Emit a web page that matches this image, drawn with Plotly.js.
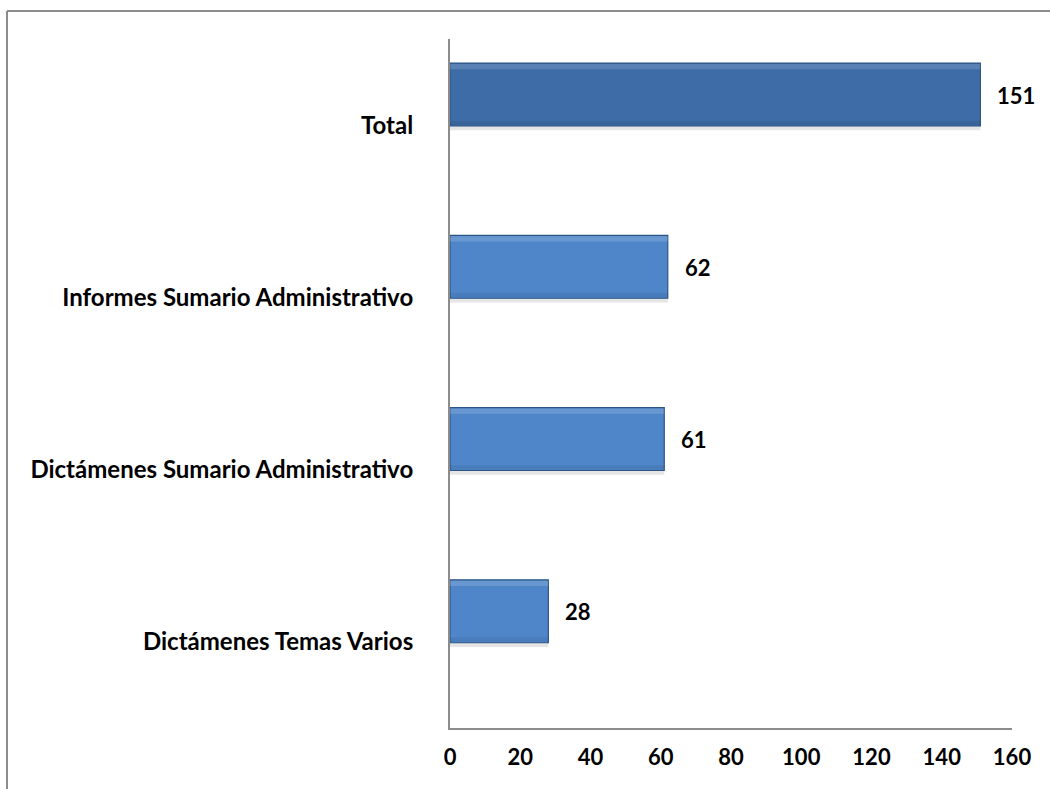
<!DOCTYPE html>
<html>
<head>
<meta charset="utf-8">
<script src="https://cdn.plot.ly/plotly-3.0.1.min.js"></script>
<style>
html,body{margin:0;padding:0;background:#fff;}
#chart{width:1050px;height:789px;}
</style>
</head>
<body>
<div id="chart"></div>
<script>
const categories = ['Dictámenes Temas Varios', 'Dictámenes Sumario Administrativo', 'Informes Sumario Administrativo', 'Total'];
const values = [28, 61, 62, 151];
const barColors = ['#4f86c9', '#4f86c9', '#4f86c9', '#3d6ca6'];
const xTicks = [0, 20, 40, 60, 80, 100, 120, 140, 160];

const FONT = 'Lato, "Open Sans", sans-serif';

const shadow = {
  type: 'bar', orientation: 'h',
  x: values, y: categories,
  width: 0.37, offset: -0.03,
  marker: {color: 'rgba(0,0,0,0.10)', line: {width: 0}},
  hoverinfo: 'skip', showlegend: false
};
const bars = {
  type: 'bar', orientation: 'h',
  x: values, y: categories,
  width: 0.365, offset: -0.005,
  marker: {color: barColors, line: {color: '#2d5686', width: 1.2}},
  showlegend: false
};
const highlight = {
  type: 'bar', orientation: 'h',
  x: values, y: categories,
  width: 0.03, offset: 0.325,
  marker: {color: 'rgba(255,255,255,0.15)', line: {width: 0}},
  hoverinfo: 'skip', showlegend: false
};
const lowlight = {
  type: 'bar', orientation: 'h',
  x: values, y: categories,
  width: 0.025, offset: 0.0,
  marker: {color: 'rgba(0,0,0,0.07)', line: {width: 0}},
  hoverinfo: 'skip', showlegend: false
};

const annotations = values.map((v, i) => ({
  x: v, y: categories[i], xref: 'x', yref: 'y',
  text: String(v), showarrow: false,
  xanchor: 'left', yanchor: 'middle',
  xshift: 15, yshift: 30,
  font: {family: FONT, size: 22, weight: 'bold', color: '#000'}
}));

const layout = {
  width: 1050, height: 789,
  margin: {l: 450, r: 38, t: 39, b: 61},
  paper_bgcolor: '#fff', plot_bgcolor: '#fff',
  barmode: 'overlay',
  showlegend: false,
  xaxis: {
    range: [0, 160], tickvals: xTicks, ticktext: xTicks.map(String),
    showgrid: false, zeroline: false,
    showline: true, linecolor: '#8c8c8c', linewidth: 2,
    ticks: '', ticklabelstandoff: 9,
    tickfont: {family: FONT, size: 22, weight: 'bold', color: '#000'},
    fixedrange: true
  },
  yaxis: {
    type: 'category', categoryorder: 'array', categoryarray: categories,
    range: [-0.5, 3.5],
    showgrid: false, zeroline: false,
    showline: true, linecolor: '#8c8c8c', linewidth: 2,
    ticks: '', ticklabelstandoff: 30,
    tickfont: {family: FONT, size: 24, weight: 'bold', color: '#000'},
    fixedrange: true
  },
  annotations: annotations,
  shapes: [
    {type: 'line', xref: 'paper', yref: 'paper', x0: (7 - 450) / 562, x1: 1.2, y0: (728 - 11) / 689, y1: (728 - 11) / 689, line: {color: '#8c8c8c', width: 2}},
    {type: 'line', xref: 'paper', yref: 'paper', x0: (7 - 450) / 562, x1: (7 - 450) / 562, y0: (728 - 11) / 689, y1: -0.2, line: {color: '#8c8c8c', width: 2}}
  ]
};

Plotly.newPlot('chart', [shadow, bars, highlight, lowlight], layout, {displayModeBar: false, staticPlot: true});
</script>
</body>
</html>
